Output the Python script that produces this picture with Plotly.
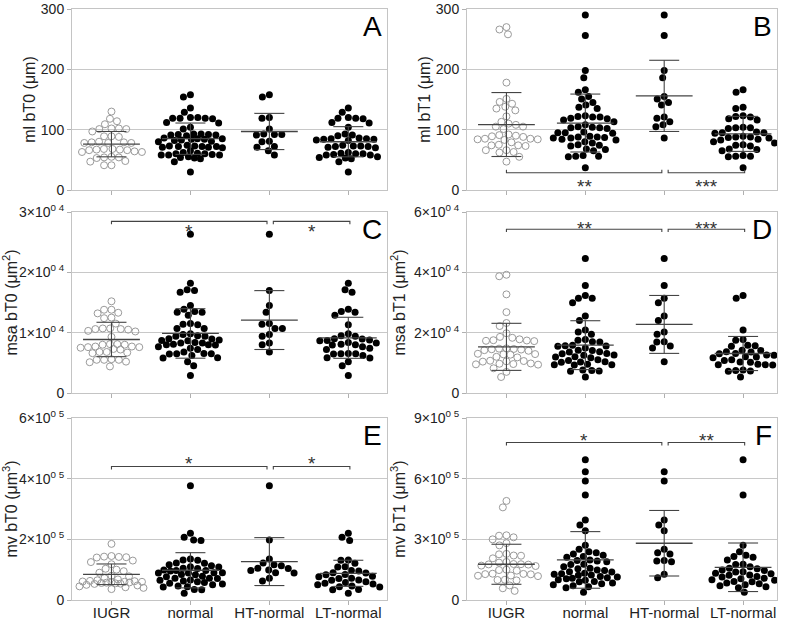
import numpy as np
import plotly.graph_objects as go

# ---------------- data ----------------
groups = ["IUGR", "normal", "HT-normal", "LT-normal"]
letters = ["A", "B", "C", "D", "E", "F"]
y_titles = ["ml bT0 (μm)", "ml bT1 (μm)",
            "msa bT0 (μm<sup>2</sup>)", "msa bT1 (μm<sup>2</sup>)",
            "mv bT0 (μm<sup>3</sup>)", "mv bT1 (μm<sup>3</sup>)"]

# Panel A: ml bT0
a_iugr = [130, 118, 114, 109, 102, 102, 101, 101, 97, 89, 89, 88, 80, 79, 79, 78, 78, 78,
          68, 68, 67, 67, 66, 66, 64, 63, 63, 55, 54, 54, 53, 48, 47, 41, 41]
a_ht = [158, 154, 120, 119, 101, 93, 92, 92, 91, 81, 80, 72, 71, 65, 58]
a_lt = [136, 129, 120, 119, 119, 118, 112, 111, 104, 93, 91, 90, 86, 85, 85, 84, 84, 83, 82,
        74, 73, 73, 72, 72, 71, 70, 62, 61, 60, 60, 59, 58, 58, 55, 54, 53, 52, 47, 30]
a_mean = [76, 85, 97, 80]
a_sd = [21, 26, 30, 25]

# Panel B: ml bT1
b_iugr = [270, 266, 258, 178, 151, 146, 143, 138, 135, 132, 122, 113, 110, 108, 105, 105, 101,
          92, 91, 90, 89, 88, 85, 85, 84, 84, 83, 79, 75, 74, 74, 73, 66, 66, 63, 62, 55, 47]
b_ht = [290, 256, 198, 186, 155, 151, 145, 141, 121, 119, 113, 108, 105, 86]
b_lt = [166, 162, 137, 135, 123, 122, 121, 118, 116, 104, 103, 103, 102, 96, 95, 95, 94, 89,
        88, 88, 87, 86, 84, 83, 80, 78, 75, 74, 73, 68, 67, 65, 57, 56, 56, 55, 37]
b_mean = [108.5, 111, 156, 93]
b_sd = [53, 48, 59, 29]

# Panel C: msa bT0
c_iugr = [15200, 13800, 13800, 13300, 13200, 12500, 12400, 11500, 10700, 10700, 10600, 10600,
          10500, 10300, 10200, 9300, 8100, 8100, 8000, 8000, 7700, 7700, 7600, 7600, 7500,
          7300, 7200, 6800, 6800, 6700, 6600, 5600, 5500, 5500, 5500, 5200, 5100, 4400]
c_ht = [26300, 17000, 14500, 13400, 11500, 11400, 10700, 10700, 9700, 9400, 8300, 8000, 6800]
c_lt = [18200, 17100, 16700, 13900, 13500, 13400, 12900, 11300, 9800, 9500, 9400, 9000, 8950,
        8800, 8700, 8650, 8350, 8300, 8100, 8000, 7950, 7650, 7400, 7200, 6550, 6500, 6500,
        6450, 6200, 5850, 5800, 5200, 4500, 2900]
c_mean = [8870, 9870, 12090, 9150]
c_sd = [2850, 4100, 4880, 3400]

# Panel D: msa bT1
d_iugr = [39200, 38700, 32700, 26800, 23200, 22200, 19800, 18600, 18300, 17800, 17500, 17400,
          17300, 17200, 14800, 14700, 14600, 14500, 14400, 14200, 14000, 13000, 12900, 12800,
          12700, 12000, 11800, 10700, 10600, 10500, 10400, 9800, 9700, 9600, 9500, 9400, 8200,
          7000, 5300]
d_ht = [44600, 35600, 31400, 29900, 25500, 24000, 20200, 19500, 17000, 16900, 15600, 14900, 10400]
d_lt = [32300, 31400, 20900, 17700, 17500, 15800, 15700, 15500, 14200, 14100, 13700, 13600,
        13100, 13000, 12600, 12500, 12000, 11900, 11700, 11000, 10800, 10300, 10200, 9500,
        9400, 9400, 9300, 7600, 7500, 7300, 7200, 5300]
d_mean = [15300, 15860, 22730, 13090]
d_sd = [7800, 8100, 9600, 5650]

# Panel E: mv bT0
e_iugr = [185000, 145000, 143000, 142000, 141000, 140000, 130000, 125000, 118000, 103000,
          100000, 95000, 90000, 80000, 78000, 72000, 68000, 65000, 63000, 62000, 61000, 60000,
          60000, 59000, 58000, 57000, 56000, 55000, 54000, 53000, 50000, 48000, 45000, 42000,
          40000, 36000]
e_ht = [377000, 198000, 135000, 122000, 116000, 113000, 105000, 104000, 99000, 97000, 90000,
        89000, 72000, 63000]
e_lt = [220000, 207000, 196000, 132000, 131000, 121000, 110000, 109000, 97000, 96000, 90000,
        89000, 84000, 83000, 78000, 77000, 72000, 71000, 66000, 65000, 60000, 58000, 55000,
        53000, 50000, 46000, 44000, 43000, 35000, 34000, 22000]
e_mean = [84770, 98000, 126600, 88000]
e_sd = [34000, 58000, 79000, 43000]

# Panel F: mv bT1
f_iugr = [490000, 458000, 320000, 318000, 310000, 300000, 281000, 270000, 228000, 226000,
          220000, 219000, 206000, 188000, 185000, 178000, 177000, 176000, 175000, 170000,
          168000, 150000, 148000, 145000, 130000, 129000, 128000, 127000, 121000, 120000,
          118000, 100000, 99000, 97000, 72000, 58000, 45000]
f_ht = [634000, 588000, 396000, 371000, 343000, 251000, 234000, 228000, 195000, 193000,
        189000, 127000, 110000]
f_lt = [694000, 519000, 271000, 239000, 221000, 215000, 211000, 198000, 177000, 176000,
        165000, 157000, 155000, 148000, 146000, 140000, 138000, 132000, 130000, 124000, 122000,
        116000, 114000, 108000, 105000, 100000, 98000, 92000, 90000, 84000, 80000, 75000,
        70000, 65000, 60000, 38000]
f_mean = [176700, 198200, 280700, 161800]
f_sd = [99000, 140000, 162000, 120000]

# y-axis ticks
a_ticks = [0, 100, 200, 300]
a_ticktext = ["0", "100", "200", "300"]
c_ticks = [0, 10000, 20000, 30000]
c_ticktext = ["0", "1×10<sup>0 4</sup>", "2×10<sup>0 4</sup>", "3×10<sup>0 4</sup>"]
d_ticks = [0, 20000, 40000, 60000]
d_ticktext = ["0", "2×10<sup>0 4</sup>", "4×10<sup>0 4</sup>", "6×10<sup>0 4</sup>"]
e_ticks = [0, 200000, 400000, 600000]
e_ticktext = ["0", "2×10<sup>0 5</sup>", "4×10<sup>0 5</sup>", "6×10<sup>0 5</sup>"]
f_ticks = [0, 300000, 600000, 900000]
f_ticktext = ["0", "3×10<sup>0 5</sup>", "6×10<sup>0 5</sup>", "9×10<sup>0 5</sup>"]

# significance: (group from, group to, label)
sig_b = [(0, 2, "**"), (2, 3, "***")]
sig_c = [(0, 2, "*"), (2, 3, "*")]
sig_d = [(0, 2, "**"), (2, 3, "***")]
sig_e = [(0, 2, "*"), (2, 3, "*")]
sig_f = [(0, 2, "*"), (2, 3, "**")]

panels = [
    dict(iugr=a_iugr, ht=a_ht, lt=a_lt, mean=a_mean, sd=a_sd, ticks=a_ticks, tt=a_ticktext,
         sig=[], sigy=None, stary=None, up=False),
    dict(iugr=b_iugr, ht=b_ht, lt=b_lt, mean=b_mean, sd=b_sd, ticks=a_ticks, tt=a_ticktext,
         sig=sig_b, sigy=28.6, stary=5, up=True),
    dict(iugr=c_iugr, ht=c_ht, lt=c_lt, mean=c_mean, sd=c_sd, ticks=c_ticks, tt=c_ticktext,
         sig=sig_c, sigy=28450, stary=26700, up=False),
    dict(iugr=d_iugr, ht=d_ht, lt=d_lt, mean=d_mean, sd=d_sd, ticks=d_ticks, tt=d_ticktext,
         sig=sig_d, sigy=54300, stary=54600, up=False),
    dict(iugr=e_iugr, ht=e_ht, lt=e_lt, mean=e_mean, sd=e_sd, ticks=e_ticks, tt=e_ticktext,
         sig=sig_e, sigy=440000, stary=449000, up=False),
    dict(iugr=f_iugr, ht=f_ht, lt=f_lt, mean=f_mean, sd=f_sd, ticks=f_ticks, tt=f_ticktext,
         sig=sig_f, sigy=779000, stary=788000, up=False),
]

# ---------------- layout geometry ----------------
W, H = 787, 620
col_px = [(72, 387), (467, 777)]
row_px = [(9, 190), (212, 393), (418, 600)]
xranges = [[-0.5, 3.49], [-0.5, 3.43]]
title_standoff = [1, 1, 4, 4, 4, 4]
FONT = "Liberation Sans, Arial, sans-serif"


def swarm(vals, ppy, ppx, d=7.4, cap=32.0):
    """Beeswarm offsets (in category units) computed in pixel space."""
    vals = np.asarray(vals, dtype=float)
    order = np.argsort(-vals, kind="stable")
    placed = []
    xs = np.zeros(len(vals))
    grid = np.linspace(-cap, cap, 65)
    for i in order:
        y = vals[i] * ppy
        cands = [0.0]
        for (px, py) in placed:
            dy = abs(py - y)
            if dy < d:
                dx = np.sqrt(d * d - dy * dy)
                cands += [px - dx, px + dx]
        cands = [c for c in cands if abs(c) <= cap + 1e-6]
        cands.sort(key=lambda c: (round(abs(c), 3), c))
        chosen = None
        for c in cands:
            if all((c - px) ** 2 + (y - py) ** 2 >= d * d - 1e-6 for px, py in placed):
                chosen = c
                break
        if chosen is None:
            best, bestd = 0.0, -1
            for c in sorted(grid, key=abs):
                md = min(np.hypot(c - px, y - py) for px, py in placed)
                if md > bestd + 0.3:
                    best, bestd = c, md
            chosen = best
        xs[i] = chosen
        placed.append((chosen, y))
    return xs / ppx


fig = go.Figure()
layout = dict(width=W, height=H, margin=dict(l=0, r=0, t=0, b=0, autoexpand=False),
              paper_bgcolor="white", plot_bgcolor="white", showlegend=False,
              font=dict(family=FONT, color="#222"))
annotations = []

for k, p in enumerate(panels):
    r, c = divmod(k, 2)
    x0, x1 = col_px[c]
    y0, y1 = row_px[r]
    ax = "" if k == 0 else str(k + 1)
    xa, ya = "x" + ax, "y" + ax
    ymax = p["ticks"][-1]
    ppx = (x1 - x0) / (xranges[c][1] - xranges[c][0])
    ppy = (y1 - y0) / ymax

    normal = list(p["ht"]) + list(p["lt"])
    data = [p["iugr"], normal, p["ht"], p["lt"]]
    for g, vals in enumerate(data):
        off = swarm(vals, ppy, ppx)
        xs = g + off
        if g == 0:
            marker = dict(symbol="circle-open", size=7, color="#9a9a9a",
                          line=dict(width=1, color="#9a9a9a"))
        else:
            marker = dict(symbol="circle", size=7, color="black", line=dict(width=0))
        fig.add_trace(go.Scatter(x=xs, y=vals, mode="markers", marker=marker,
                                 xaxis=xa, yaxis=ya, hoverinfo="skip"))
        m, s = p["mean"][g], p["sd"][g]
        lc = "#444"
        fig.add_trace(go.Scatter(x=[g - 0.36, g + 0.36], y=[m, m], mode="lines",
                                 line=dict(color=lc, width=1.3), xaxis=xa, yaxis=ya,
                                 hoverinfo="skip"))
        fig.add_trace(go.Scatter(x=[g - 0.19, g + 0.19, None, g - 0.19, g + 0.19, None, g, g],
                                 y=[m + s, m + s, None, m - s, m - s, None, m - s, m + s],
                                 mode="lines", line=dict(color=lc, width=1.1),
                                 xaxis=xa, yaxis=ya, hoverinfo="skip"))

    # significance brackets
    if p["sig"]:
        tick = ymax * 0.016 * (1 if p["up"] else -1)
        for (ga, gb, lab) in p["sig"]:
            xa0 = ga + (0.05 if ga == 2 else 0.0)
            xb0 = gb - (0.03 if gb == 2 else -0.02)
            yl = p["sigy"]
            fig.add_trace(go.Scatter(x=[xa0, xa0, xb0, xb0], y=[yl + tick, yl, yl, yl + tick],
                                     mode="lines", line=dict(color="#444", width=1.1),
                                     xaxis=xa, yaxis=ya, hoverinfo="skip"))
            annotations.append(dict(x=(xa0 + xb0) / 2, y=p["stary"], xref=xa, yref=ya, text=lab,
                                    showarrow=False, font=dict(size=19, color="#333"),
                                    xanchor="center", yanchor="middle"))

    dom_x = [x0 / W, x1 / W]
    dom_y = [1 - y1 / H, 1 - y0 / H]
    layout["xaxis" + ax] = dict(
        domain=dom_x, anchor=ya, range=xranges[c], tickvals=[0, 1, 2, 3],
        ticktext=groups, showticklabels=(r == 2), ticks="outside", ticklen=4,
        tickcolor="#b0b0b0", showline=True, linecolor="#c4c4c4", linewidth=1, mirror=True,
        showgrid=False, zeroline=False, automargin=False, ticklabelstandoff=-5,
        tickfont=dict(size=15, color="#222"))
    layout["yaxis" + ax] = dict(
        domain=dom_y, anchor=xa, range=[0, ymax], tickvals=p["ticks"], ticktext=p["tt"],
        ticks="outside", ticklen=4, tickcolor="#b0b0b0", showline=True, linecolor="#c4c4c4",
        linewidth=1, mirror=True, showgrid=True, gridcolor="#c8c8c8", gridwidth=1,
        zeroline=False, automargin=False, tickfont=dict(size=14, color="#222"),
        title=dict(text=y_titles[k], font=dict(size=16, color="#222"),
                   standoff=title_standoff[k]))
    annotations.append(dict(x=0.99, y=1.0, xref=xa + " domain", yref=ya + " domain",
                            text=letters[k], showarrow=False, xanchor="right", yanchor="top",
                            font=dict(size=28, color="black")))

layout["annotations"] = annotations
fig.update_layout(**layout)
fig.write_html("out.html", config={"displayModeBar": False},
               post_script="document.body.style.margin='0';document.body.style.overflow='hidden';")
